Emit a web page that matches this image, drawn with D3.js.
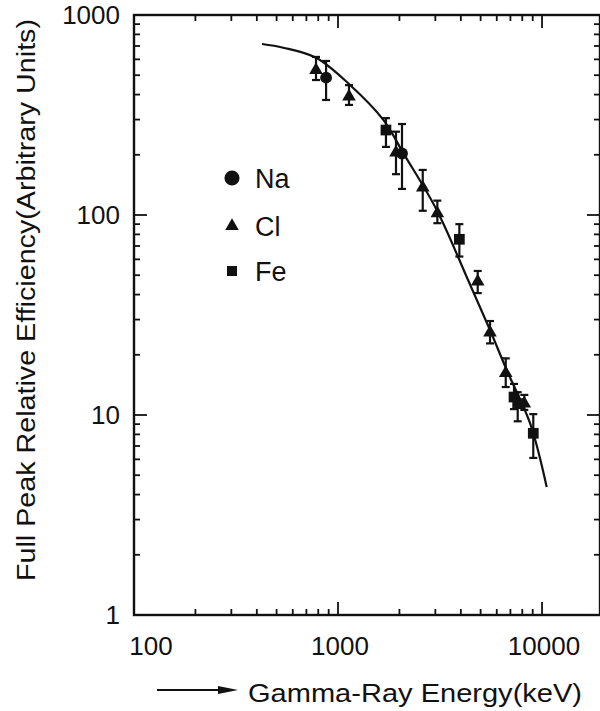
<!DOCTYPE html>
<html>
<head>
<meta charset="utf-8">
<script src="https://cdn.jsdelivr.net/npm/d3@7"></script>
<style>
  html, body { margin: 0; padding: 0; background: #fff; }
  svg { display: block; }
  text { font-family: "Liberation Sans", "DejaVu Sans", sans-serif; fill: #111; }
</style>
</head>
<body>
<svg id="chart" width="600" height="711"></svg>
<script>
// ---------- data ----------
const naEnergy = [874, 2059];
const naEff    = [486, 203];
const naHi     = [589, 285];
const naLo     = [376, 135];

const clEnergy = [780, 1132, 1924, 2602, 3068, 4840, 5560, 6640, 8190];
const clEff    = [531, 391, 205, 137, 102, 46.4, 25.8, 16.2, 11.4];
const clHi     = [617, 446, 261, 168, 118, 52.5, 29.5, 19.2, 12.6];
const clLo     = [473, 355, 160, 105, 91, 40.7, 22.8, 13.8, 10.6];

const feEnergy = [1718, 3934, 7290, 7600, 9060];
const feEff    = [266, 75.6, 12.3, 11.4, 8.1];
const feHi     = [305, 90, 14.3, 13.0, 10.1];
const feLo     = [219, 62, 10.7, 9.3, 6.1];

const fitEnergy = [424, 539, 780, 1145, 1668, 2090, 3047, 4275, 5560, 6710, 8735, 10540];
const fitEff    = [716, 686, 611, 447, 299, 204, 106, 49, 26.6, 16.8, 9.1, 4.37];

const xDomain = [100, 19240];
const yDomain = [1, 1000];
const xTickLabels = [100, 1000, 10000];
const yTickLabels = [1, 10, 100, 1000];
const legendNames = ["Na", "Cl", "Fe"];

const xTitle = "Gamma-Ray Energy(keV)";
const yTitle = "Full Peak Relative Efficiency(Arbitrary Units)";

// ---------- layout ----------
const L = 134, R = 600, T = 15, B = 615;
const svg = d3.select("#chart");
const x = d3.scaleLog().domain(xDomain).range([L, R]);
const y = d3.scaleLog().domain(yDomain).range([B, T]);
const ink = "#111";

// frame
svg.append("rect").attr("x", L).attr("y", T).attr("width", R - L).attr("height", B - T)
  .attr("fill", "none").attr("stroke", ink).attr("stroke-width", 2.4);

// ticks
const xt = x.ticks().filter(v => v >= xDomain[0] && v <= xDomain[1]);
const yt = y.ticks();
const isMajor = v => Math.abs(Math.log10(v) - Math.round(Math.log10(v))) < 1e-9;
const tk = svg.append("g").attr("stroke", ink).attr("stroke-width", 1.8);
xt.forEach(v => {
  const len = isMajor(v) ? 13 : 6;
  tk.append("line").attr("x1", x(v)).attr("x2", x(v)).attr("y1", B).attr("y2", B - len);
  tk.append("line").attr("x1", x(v)).attr("x2", x(v)).attr("y1", T).attr("y2", T + len);
});
yt.forEach(v => {
  const len = isMajor(v) ? 13 : 6;
  tk.append("line").attr("y1", y(v)).attr("y2", y(v)).attr("x1", L).attr("x2", L + len);
  tk.append("line").attr("y1", y(v)).attr("y2", y(v)).attr("x1", R).attr("x2", R - len);
});

// tick labels
svg.append("g").selectAll("text").data(xTickLabels).join("text")
  .attr("x", d => d === 100 ? x(d) + 17 : x(d) + 2)
  .attr("y", 655).attr("text-anchor", "middle").attr("font-size", 26)
  .text(d => d);
svg.append("g").selectAll("text").data(yTickLabels).join("text")
  .attr("x", 120).attr("y", d => y(d) + 9).attr("text-anchor", "end").attr("font-size", 26)
  .text(d => d);

// axis titles
svg.append("text").attr("transform", "translate(35,300) rotate(-90)")
  .attr("text-anchor", "middle").attr("font-size", 25)
  .attr("textLength", 562).attr("lengthAdjust", "spacingAndGlyphs")
  .text(yTitle);
svg.append("text").attr("x", 248).attr("y", 702).attr("font-size", 26)
  .attr("textLength", 334).attr("lengthAdjust", "spacingAndGlyphs")
  .text(xTitle);
// arrow before x title
svg.append("line").attr("x1", 157).attr("x2", 222).attr("y1", 690).attr("y2", 690)
  .attr("stroke", ink).attr("stroke-width", 2);
svg.append("path").attr("d", "M218,686 L238,690 L218,694 Z").attr("fill", ink);

// fit curve
const fit = fitEnergy.map((e, i) => [e, fitEff[i]]);
svg.append("path").datum(fit)
  .attr("d", d3.line().x(d => x(d[0])).y(d => y(d[1])).curve(d3.curveCatmullRom.alpha(0.5)))
  .attr("fill", "none").attr("stroke", ink).attr("stroke-width", 2.2);

// series
const series = [
  { name: "Na", E: naEnergy, V: naEff, H: naHi, Lo: naLo, sym: d3.symbolCircle, size: 110, lsize: 180 },
  { name: "Cl", E: clEnergy, V: clEff, H: clHi, Lo: clLo, sym: d3.symbolTriangle, size: 80, lsize: 80 },
  { name: "Fe", E: feEnergy, V: feEff, H: feHi, Lo: feLo, sym: d3.symbolSquare, size: 115, lsize: 100 }
];
const cap = 4;
series.forEach(s => {
  const g = svg.append("g");
  const pts = s.E.map((e, i) => ({ e, v: s.V[i], h: s.H[i], l: s.Lo[i] }));
  const eb = g.append("g").attr("stroke", ink).attr("stroke-width", 2.2);
  pts.forEach(p => {
    const cx = x(p.e);
    eb.append("line").attr("x1", cx).attr("x2", cx).attr("y1", y(p.h)).attr("y2", y(p.l));
    eb.append("line").attr("x1", cx - cap).attr("x2", cx + cap).attr("y1", y(p.h)).attr("y2", y(p.h));
    eb.append("line").attr("x1", cx - cap).attr("x2", cx + cap).attr("y1", y(p.l)).attr("y2", y(p.l));
  });
  g.selectAll("path.m").data(pts).join("path").attr("class", "m")
    .attr("transform", p => `translate(${x(p.e)},${y(p.v)})`)
    .attr("d", d3.symbol().type(s.sym).size(s.size))
    .attr("fill", ink);
});

// legend
const legY = [178, 226, 271];
series.forEach((s, i) => {
  svg.append("path").attr("transform", `translate(232,${legY[i]})`)
    .attr("d", d3.symbol().type(s.sym).size(s.lsize)).attr("fill", ink);
  svg.append("text").attr("x", 255).attr("y", legY[i] + 10).attr("font-size", 27)
    .text(legendNames[i]);
});
</script>
</body>
</html>
